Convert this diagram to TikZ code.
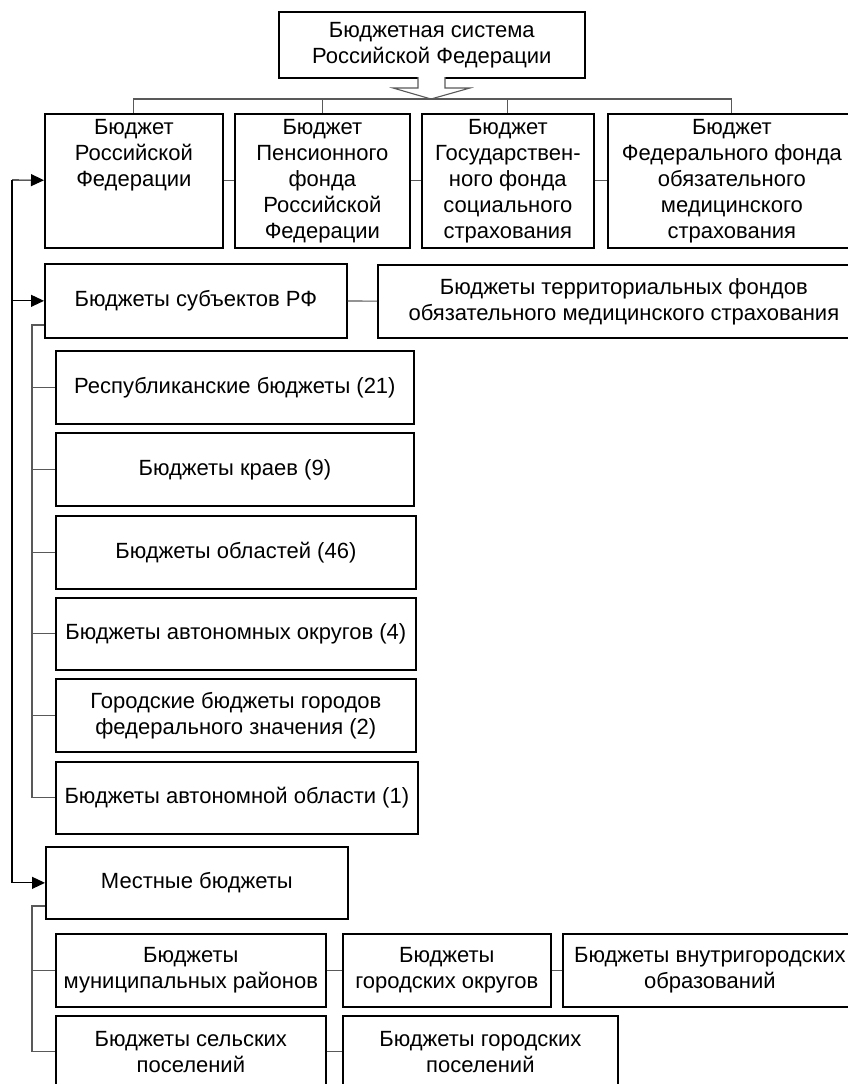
\documentclass[tikz,border=0pt]{standalone}
\usepackage{fontspec}
\setmainfont{Liberation Sans}
\usetikzlibrary{arrows.meta}

\begin{document}
\begin{tikzpicture}[x=1pt,y=-1pt,
    box/.style={draw, line width=1.7pt, anchor=north west, align=center,
      inner sep=2pt, font=\fontsize{22}{26}\selectfont},
    link/.style={draw=black!65, line width=1.1pt},
    feed/.style={draw=black, line width=1.1pt, -{Triangle[length=13pt,width=12pt]}}]
          \useasboundingbox (0,0) rectangle (847,1084);

          % top of the system
          \node[box, minimum width=306, minimum height=66] (sys) at (278,11)
                {Бюджетная система\\Российской Федерации};
          \draw[link, fill=white] (418,77) -- (418,88) -- (393,88) -- (431,99)
                -- (470,88) -- (445,88) -- (445,77);
          \coordinate (bus) at (0,99);

          \node[box, minimum width=178, minimum height=134] (rf) at (44,113)
                {Бюджет\\Российской\\Федерации\\\vphantom{Бр}\\\vphantom{Бр}};
          \node[box, minimum width=175, minimum height=134] (pf) at (234,113)
                {Бюджет\\Пенсионного\\фонда\\Российской\\Федерации};
          \node[box, minimum width=172, minimum height=134] (fss) at (421,113)
                {Бюджет\\Государствен-\\ного фонда\\социального\\страхования};
          \node[box, minimum width=248, minimum height=134] (foms) at (607,113)
                {Бюджет\\Федерального фонда\\обязательного\\медицинского\\страхования};

          \draw[link] (rf.north) -- (rf.north |- bus) -| (foms.north);
          \draw[link] (pf.north) -- (pf.north |- bus);
          \draw[link] (fss.north) -- (fss.north |- bus);
          \draw[link] (rf) -- (pf);
          \draw[link] (pf) -- (fss);
          \draw[link] (fss) -- (foms);

          % regional level
          \node[box, minimum width=302, minimum height=74] (subj) at (44,263)
                {Бюджеты субъектов РФ};
          \node[box, minimum width=492, minimum height=73] (tfoms) at (377,264)
                {Бюджеты территориальных фондов\\обязательного медицинского страхования};
          \draw[link] (subj) -- (tfoms);

          \node[box, minimum width=358, minimum height=73] (resp) at (55,350)
                {Республиканские бюджеты (21)};
          \node[box, minimum width=358, minimum height=73] (krai) at (55,432)
                {Бюджеты краев (9)};
          \node[box, minimum width=360, minimum height=73] (obl) at (55,515)
                {Бюджеты областей (46)};
          \node[box, minimum width=360, minimum height=72] (ao) at (55,597)
                {Бюджеты автономных округов (4)};
          \node[box, minimum width=360, minimum height=73] (fedcity) at (55,678)
                {Городские бюджеты городов\\федерального значения (2)};
          \node[box, minimum width=362, minimum height=72] (aobl) at (55,761)
                {Бюджеты автономной области (1)};

          \coordinate (sb) at (32,325);
          \draw[link] (subj.west |- sb) -- (sb) |- (aobl);
          \foreach \n in {resp,krai,obl,ao,fedcity}
                \draw[link] (sb |- \n) -- (\n);

          % local level
          \node[box, minimum width=302, minimum height=72] (mest) at (45,846)
                {Местные бюджеты};
          \node[box, minimum width=270, minimum height=73] (munr) at (55,933)
                {Бюджеты\\муниципальных районов};
          \node[box, minimum width=208, minimum height=73] (gorok) at (342,933)
                {Бюджеты\\городских округов};
          \node[box, minimum width=294, minimum height=73] (vnutr) at (562,933)
                {Бюджеты внутригородских\\образований};
          \node[box, minimum width=270, minimum height=72] (selp) at (55,1015)
                {Бюджеты сельских\\поселений};
          \node[box, minimum width=275, minimum height=72] (gorp) at (342,1015)
                {Бюджеты городских\\поселений};

          \draw[link] (munr) -- (gorok);
          \draw[link] (gorok) -- (vnutr);
          \draw[link] (selp) -- (gorp);
          \coordinate (mb) at (32,906);
          \draw[link] (mest.west |- mb) -- (mb) |- (selp);
          \draw[link] (mb |- munr) -- (munr);

          % levels fed from the left
          \coordinate (trunk) at (12,180);
          \draw[feed] (trunk) -- (rf);
          \draw[feed] (trunk |- subj) -- (subj);
          \draw[feed] (trunk) |- (mest);
      \end{tikzpicture}
\end{document}
